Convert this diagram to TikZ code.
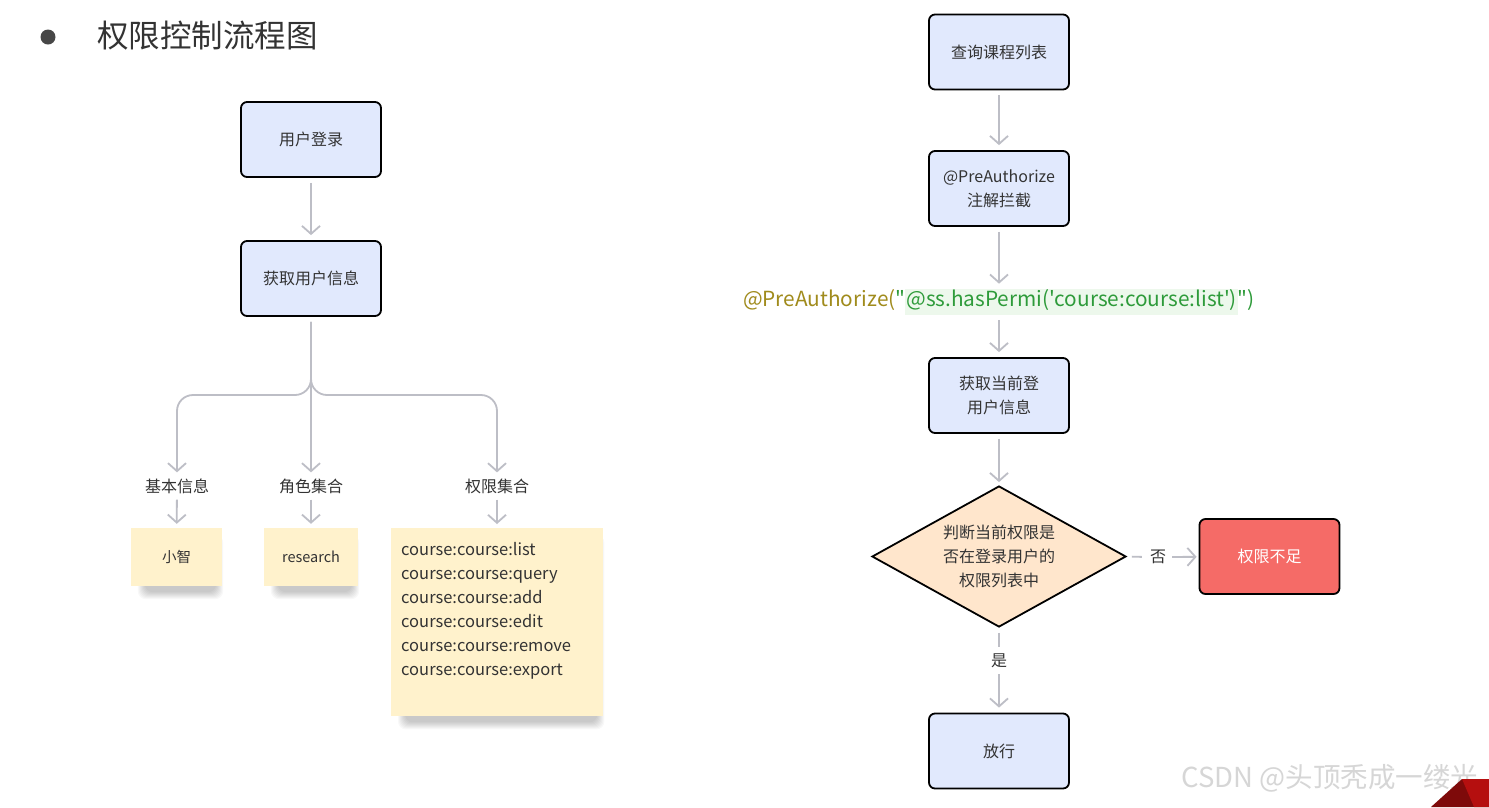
\documentclass[tikz,border=0pt]{standalone}
\usepackage{fontspec}
\setmainfont{Noto Sans CJK SC}[Ligatures=TeXOff]
\usetikzlibrary{arrows.meta,shapes.geometric,calc}
\pgfdeclarelayer{bg}
\pgfsetlayers{bg,main}
\definecolor{bfill}{HTML}{E1E9FD}
\definecolor{yfill}{HTML}{FFF2CC}
\definecolor{dfill}{HTML}{FFE6CC}
\definecolor{rfill}{HTML}{F56B67}
\definecolor{cgray}{HTML}{BDBEC6}
\definecolor{txt}{HTML}{333333}
\definecolor{olv}{HTML}{A08B1C}
\definecolor{grn}{HTML}{2E9B3A}
\definecolor{hl}{HTML}{EDF8EC}
\definecolor{wm}{HTML}{D6D6D6}
\definecolor{dred}{HTML}{7E0A0A}
\definecolor{lred}{HTML}{B50F0F}
\tikzset{
  box/.style={draw=black, line width=1.8pt, rounded corners=6pt, fill=bfill,
    minimum width=140pt, minimum height=75pt, align=center, text=txt,
    font=\fontsize{16}{24}\selectfont},
  note/.style={fill=yfill, minimum height=58pt, text=txt, font=\fontsize{14.5}{24}\selectfont},
  shade/.style={fill=black, opacity=0.028, rounded corners=8pt},
  lbl/.style={text=txt, font=\fontsize{16}{20}\selectfont, inner sep=4pt},
  conn/.style={draw=cgray, line width=1.8pt, shorten <=5pt, shorten >=5pt,
    -{Straight Barb[length=8pt,width=18pt,line width=1.8pt]}},
  plain/.style={draw=cgray, line width=1.8pt}
}
\begin{document}
\begin{tikzpicture}[x=1pt,y=-1pt]
\useasboundingbox (0,0) rectangle (1489,807);
\begin{pgfonlayer}{bg}
\fill[white] (0,0) rectangle (1489,807);
\end{pgfonlayer}

% title
\fill[black!72] (48,37) circle (7.5pt);
\node[anchor=west, text=txt, font=\fontsize{31.5}{36}\selectfont, inner sep=0] (title) at (97,36) {权限控制流程图};

% left flow
\node[box] (login) at (311,139.5) {用户登录};
\node[box] (info) at (311,278.5) {获取用户信息};
\node[lbl] (base) at (177,486) {基本信息};
\node[lbl] (role) at (311,486) {角色集合};
\node[lbl] (perm) at (497,486) {权限集合};
\node[note, minimum width=91pt] (xz) at (176.5,557) {小智};
\node[note, minimum width=94pt] (rs) at (311,557) {research};
\node[note, minimum width=211pt, minimum height=188pt, align=left, anchor=north west,
  text width=192pt, inner xsep=10pt, inner ysep=10pt, text depth=0pt,
  font=\fontsize{16.5}{24}\selectfont] (plist) at (391,528)
  {\vbox to 168pt{\vskip4pt course:course:list\\course:course:query\\course:course:add\\course:course:edit\\course:course:remove\\course:course:export\vfill}};

% soft shadows under the notes
\begin{pgfonlayer}{bg}
\foreach \n in {xz,rs,plist}{
  \foreach \k in {0,...,7}{
    \fill[shade] ($(\n.north west)+(14-\k,14-\k)$) rectangle ($(\n.south east)+(-6+\k,6+\k)$);
  }
}
\end{pgfonlayer}

\draw[conn] (login) -- (info);
\draw[conn, shorten >=2pt] (info.south) -- (role.north);
\draw[conn, rounded corners=16pt, shorten >=2pt] (info.south) -- (info.south |- 0,395) -- (base.north |- 0,395) -- (base.north);
\draw[conn, rounded corners=16pt, shorten >=2pt] (info.south) -- (info.south |- 0,395) -- (perm.north |- 0,395) -- (perm.north);
\draw[conn, shorten <=2pt, shorten >=4pt] (base) -- (xz);
\draw[conn, shorten <=2pt, shorten >=4pt] (role) -- (rs);
\draw[conn, shorten <=2pt, shorten >=4pt] (perm.south) -- (perm.south |- plist.north);

% right flow
\node[box] (query) at (999,52) {查询课程列表};
\node[box] (pre) at (999,188.5) {@PreAuthorize\\注解拦截};
\node[inner sep=2pt, font=\fontsize{20.8}{24}\selectfont] (code) at (999,302)
  {\textcolor{olv}{@PreAuthorize(}\textcolor{grn}{"}{\setlength{\fboxsep}{1pt}\colorbox{hl}{\textcolor{grn}{\strut @ss.hasPermi('course:course:list')}}}\textcolor{grn}{")}};
\node[box] (cur) at (999,395.5) {获取当前登\\用户信息};
\node[diamond, aspect=1.8, draw=black, line width=1.8pt, fill=dfill, minimum width=254pt, minimum height=141pt,
  inner sep=0pt, align=center, text=txt, font=\fontsize{16}{24}\selectfont] (judge) at (999,556.5)
  {判断当前权限是\\否在登录用户的\\权限列表中};
\node[box, fill=rfill, text=white] (fail) at (1269.5,556.5) {权限不足};
\node[lbl] (no) at (1158,557) {否};
\node[lbl] (yes) at (999,661) {是};
\node[box] (pass) at (999,751) {放行};

\draw[conn] (query) -- (pre);
\draw[conn, shorten >=3pt] (pre) -- (code);
\draw[conn, shorten <=3pt] (code) -- (cur);
\draw[conn, shorten >=3pt] (cur) -- (judge);
\draw[plain, shorten <=5pt, shorten >=4pt] (judge.east) -- (no.west);
\draw[conn, shorten <=2pt, shorten >=2pt] (no) -- (fail);
\draw[plain, shorten <=5pt, shorten >=3pt] (judge.south) -- (yes.north);
\draw[conn, shorten <=2pt] (yes) -- (pass);

% watermark
\node[text=wm, font=\fontsize{27.5}{32}\selectfont, inner sep=0] (wmark) at (1330,778) {CSDN @头顶秃成一缕光};
\fill[dred] (1431,807) -- (1462,779) -- (1489,779) -- (1489,807) -- cycle;
\fill[lred] (1462,779) -- (1489,779) -- (1489,807) -- (1474,807) -- cycle;
\end{tikzpicture}
\end{document}
